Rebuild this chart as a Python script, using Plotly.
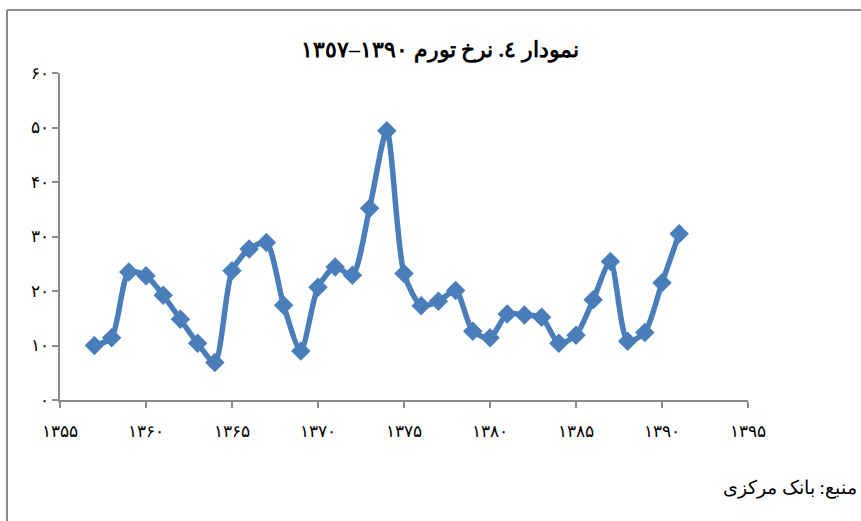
import plotly.graph_objects as go

years = list(range(1357, 1392))
inflation = [10.0, 11.4, 23.5, 22.8, 19.2, 14.8, 10.4, 6.9, 23.7, 27.7,
             28.9, 17.4, 9.0, 20.7, 24.4, 22.9, 35.2, 49.4, 23.2, 17.3,
             18.1, 20.1, 12.6, 11.4, 15.8, 15.6, 15.2, 10.4, 11.9, 18.4,
             25.4, 10.8, 12.4, 21.5, 30.5]

x_tickvals = [1355, 1360, 1365, 1370, 1375, 1380, 1385, 1390, 1395]
x_ticktext = ["۱۳۵۵", "۱۳۶۰", "۱۳۶۵", "۱۳۷۰", "۱۳۷۵", "۱۳۸۰", "۱۳۸۵", "۱۳۹۰", "۱۳۹۵"]
y_tickvals = [0, 10, 20, 30, 40, 50, 60]
y_ticktext = ["۰", "۱۰", "۲۰", "۳۰", "۴۰", "۵۰", "۶۰"]

title_text = "نمودار ٤. نرخ تورم ١٣٩٠–١٣٥٧"
source_text = "منبع: بانک مرکزی"

W, H = 861, 521
L, T = 60, 73
pw, ph = 688, 327
R, B = W - L - pw, H - T - ph

def px(x):
    return (x - L) / pw

def py(y):
    return (T + ph - y) / ph

FONT = "Liberation Serif, Times New Roman, DejaVu Serif, serif"
AXC = "#8a8a8a"

fig = go.Figure()
fig.add_trace(go.Scatter(
    x=years, y=inflation, mode="lines+markers",
    line=dict(color="#4a7ebb", width=5.5, shape="spline", smoothing=0.7),
    marker=dict(symbol="diamond", size=15, color="#4a7ebb"),
    showlegend=False, hoverinfo="x+y",
))

fig.update_layout(
    width=W, height=H,
    margin=dict(l=L, r=R, t=T, b=B, autoexpand=False),
    paper_bgcolor="white", plot_bgcolor="white",
    font=dict(family=FONT, color="black", size=14),
    xaxis=dict(range=[1355, 1395], tickvals=x_tickvals, ticktext=x_ticktext,
               showgrid=False, zeroline=False, showline=True, linecolor=AXC, linewidth=2,
               ticks="outside", ticklen=6, tickwidth=2, tickcolor=AXC,
               tickfont=dict(size=17, family=FONT), ticklabelstandoff=9),
    yaxis=dict(range=[0, 60], tickvals=y_tickvals, ticktext=y_ticktext,
               showgrid=False, zeroline=False, showline=True, linecolor=AXC, linewidth=2,
               ticks="outside", ticklen=6, tickwidth=2, tickcolor=AXC,
               tickfont=dict(size=17, family=FONT)),
)

fig.add_annotation(text="<b>" + title_text + "</b>", xref="paper", yref="paper",
                   x=px(440), y=py(50), xanchor="center", yanchor="middle",
                   showarrow=False, font=dict(size=22, family=FONT))
fig.add_annotation(text=source_text, xref="paper", yref="paper",
                   x=px(721), y=py(488), xanchor="left", yanchor="middle",
                   showarrow=False, font=dict(size=19, family=FONT))

# outer chart border (top and left)
fig.add_shape(type="line", xref="paper", yref="paper",
              x0=px(7), x1=px(W + 20), y0=py(10), y1=py(10),
              line=dict(color="#8c8c8c", width=2))
fig.add_shape(type="line", xref="paper", yref="paper",
              x0=px(7), x1=px(7), y0=py(10), y1=py(H + 20),
              line=dict(color="#8c8c8c", width=2))

fig.write_html("out.html",
               config={"displayModeBar": False},
               post_script="document.body.style.margin='0';document.body.style.overflow='hidden';")
